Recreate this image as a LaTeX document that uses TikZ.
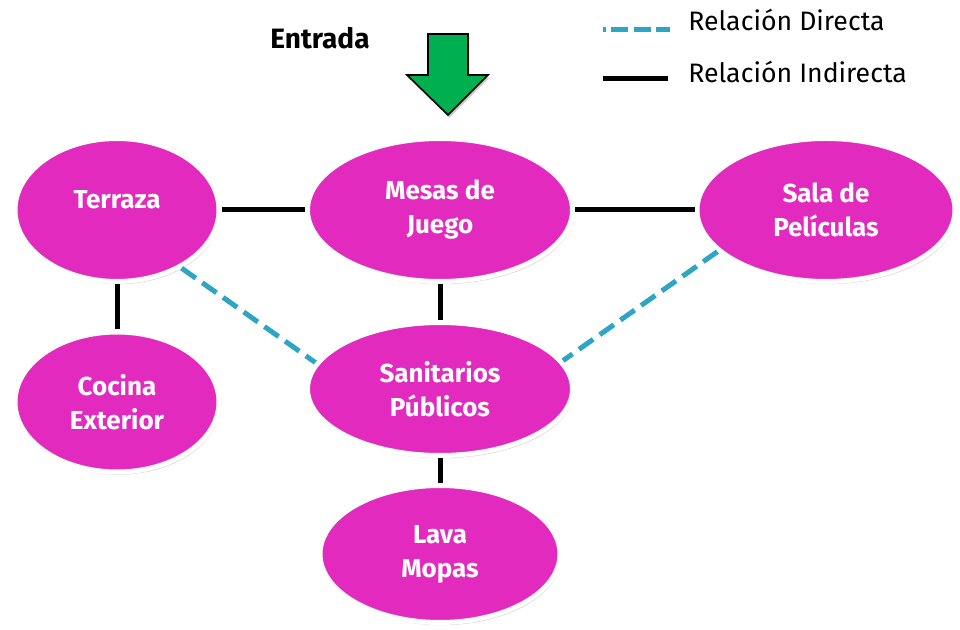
\documentclass[tikz,border=0pt]{standalone}
\usepackage{fontspec}
\setmainfont{Fira Sans}
\usetikzlibrary{shapes.geometric,shadows}
\definecolor{zonamag}{RGB}{226,43,190}
\definecolor{directa}{RGB}{46,165,195}
\definecolor{entradaverde}{RGB}{0,176,80}
\begin{document}
\begin{tikzpicture}[x=0.75pt,y=-0.75pt,
		sombra/.style={drop shadow={shadow xshift=1pt,shadow yshift=-2pt,opacity=.3,fill=black!70}},
		zona/.style={ellipse,fill=zonamag,draw=white,line width=3.75pt,inner sep=0pt,sombra,
			text=white,align=center,font=\bfseries\fontsize{19.5}{25.5}\selectfont},
		indirecta/.style={line width=3.75pt,black},
		directaline/.style={line width=3.75pt,directa,dash pattern=on 13pt off 6pt},
		leyenda/.style={anchor=base west,inner sep=0pt,font=\fontsize{20}{24}\selectfont}]
		\useasboundingbox (0,0) rectangle (960,630);
		% zonas
		\node[zona,minimum width=153pt,minimum height=107.25pt] (terraza) at (117,210) {\raisebox{16.5pt}{Terraza}};
		\node[zona,minimum width=198.75pt,minimum height=107.25pt] (mesas) at (440,210) {Mesas de\\Juego};
		\node[zona,minimum width=193.5pt,minimum height=107.25pt] (sala) at (826,210) {Sala de\\Películas};
		\node[zona,minimum width=153pt,minimum height=105pt] (cocina) at (117,402) {Cocina\\Exterior};
		\node[zona,minimum width=198.75pt,minimum height=99.75pt] (sanitarios) at (440,389) {Sanitarios\\Públicos};
		\node[zona,minimum width=180pt,minimum height=102.75pt] (lava) at (440,554) {Lava\\Mopas};
		% relaciones
		\draw[indirecta] (terraza) -- (mesas);
		\draw[indirecta] (mesas) -- (sala);
		\draw[indirecta] (terraza) -- (cocina);
		\draw[indirecta] (mesas) -- (sanitarios);
		\draw[indirecta] (sanitarios) -- (lava);
		\draw[directaline] (terraza.-42) -- (sanitarios.168);
		\draw[directaline] (sala.201) -- (sanitarios.13);
		% entrada
		\node[font=\bfseries\fontsize{21}{25}\selectfont,inner sep=0pt] (entrada) at (320,38) {Entrada};
		\draw[fill=entradaverde,line width=1.2pt,sombra]
			(428,34) -- (468,34) -- (468,75) -- (488,75) -- (448,115) -- (407,75) -- (428,75) -- cycle;
		% leyenda
		\coordinate (d1) at (603,30);
		\coordinate (d2) at (670,30);
		\coordinate (i1) at (603,79);
		\coordinate (i2) at (668,79);
		\draw[directaline,dash pattern=on 13pt off 4pt,dash phase=11pt] (d1) -- (d2);
		\draw[indirecta] (i1) -- (i2);
		\node[leyenda] (ldirecta) at (688,31) {Relación Directa};
		\node[leyenda] (lindirecta) at (688,83) {Relación Indirecta};
\end{tikzpicture}
\end{document}
